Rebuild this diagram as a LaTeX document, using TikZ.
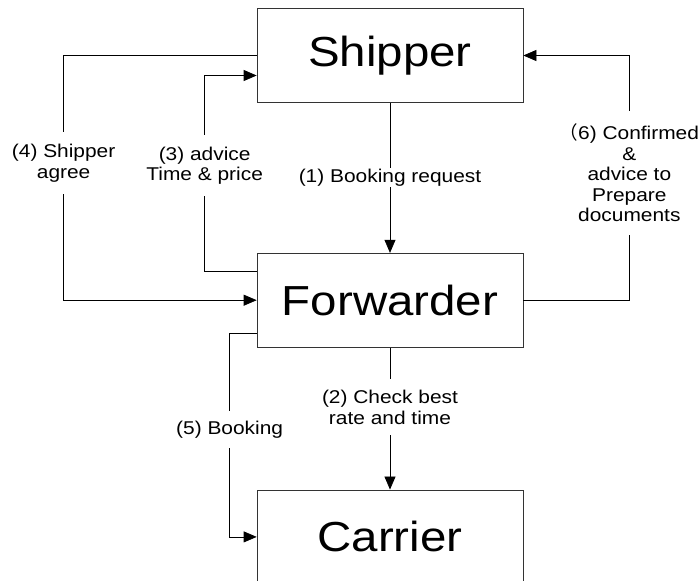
\documentclass[tikz,border=0pt]{standalone}
\usepackage{fontspec}
\setmainfont{Liberation Sans}[FakeStretch=1.13]
\newfontfamily\cjk{Noto Sans CJK SC}
\usetikzlibrary{positioning,arrows.meta}

\begin{document}
\begin{tikzpicture}[x=1pt, y=-1pt, line width=0.7pt, >={Triangle[length=13pt,width=11pt]},
  main/.style = {draw=black!80, minimum width=266pt, minimum height=94pt, inner sep=0pt, font=\fontsize{42}{42}\selectfont},
  note/.style = {fill=white, align=center, inner xsep=2pt, font=\fontsize{18.5}{20.5}\selectfont}]
\useasboundingbox (0,0) rectangle (699,581);
\node[main] (0) at (390,55.5) {Shipper};
\node[main] (1) [below=150pt of 0] {Forwarder};
\node[main] (2) [below=142pt of 1] {Carrier};
\draw[->] (0) -- node[note, inner ysep=1pt] (n1) {(1) Booking request} (1);
\draw[->] (1) -- node[note, inner ysep=11pt, pos=0.42] (n2) {(2) Check best\\rate and time} (2);
\draw[->] ([yshift=29pt]1.west) -- ++(-52,0) |- node[note, inner ysep=12pt, pos=0.27] (n3) {(3) advice\\Time \& price} ([yshift=-20pt]0.west);
\draw[->] (0.west) -- ++(-193,0) |- node[note, inner ysep=12pt, pos=0.22] (n4) {(4) Shipper\\agree} (1.west);
\draw[->] ([yshift=-33pt]1.west) -- ++(-27,0) |- node[note, inner ysep=10pt, pos=0.236] (n5) {(5) Booking} (2.west);
\draw[->] (1.east) -- ++(106,0) |- node[note, inner ysep=13pt, pos=0.26] (n6) {{\cjk （}6) Confirmed\\\&\\advice to\\Prepare\\documents} (0.east);
\end{tikzpicture}
\end{document}
